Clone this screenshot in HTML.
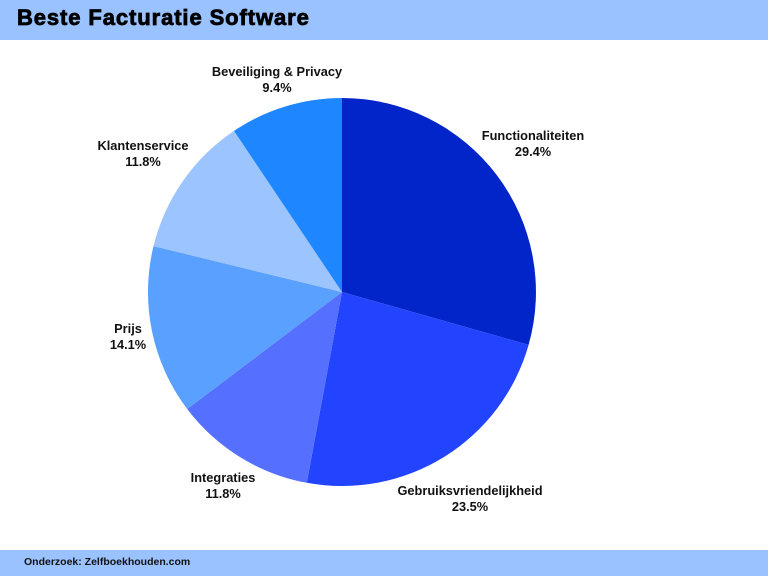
<!DOCTYPE html>
<html><head><meta charset="utf-8"><style>
html,body{margin:0;padding:0;background:#fff;}
body{width:768px;height:576px;position:relative;overflow:hidden;font-family:"Liberation Sans",sans-serif;}
.hdr{position:absolute;left:0;top:0;width:768px;height:40px;background:#99c2ff;}
.hdr span{position:absolute;left:17px;top:5px;font-size:22px;font-weight:bold;color:#000;letter-spacing:0.9px;-webkit-text-stroke:0.8px #000;}
.ftr{position:absolute;left:0;top:550px;width:768px;height:26px;background:#99c2ff;}
.ftr span{position:absolute;left:24px;top:6px;font-size:10.5px;font-weight:bold;color:#111;}
</style></head><body>
<div class="hdr"><span>Beste Facturatie Software</span></div>
<svg width="768" height="576" style="position:absolute;left:0;top:0">
<g stroke="none">
<path d="M342,292 L342,98 A194,194 0 0,1 528.6,344.9 Z" fill="#0225c9"/>
<path d="M342,292 L528.6,344.9 A194,194 0 0,1 306.8,482.8 Z" fill="#2244ff"/>
<path d="M342,292 L306.8,482.8 A194,194 0 0,1 187.2,409.0 Z" fill="#5570ff"/>
<path d="M342,292 L187.2,409.0 A194,194 0 0,1 153.5,246.1 Z" fill="#5aa0ff"/>
<path d="M342,292 L153.5,246.1 A194,194 0 0,1 234.0,130.9 Z" fill="#9cc4ff"/>
<path d="M342,292 L234.0,130.9 A194,194 0 0,1 342,98 Z" fill="#1e87ff"/>
</g>
<g font-family="Liberation Sans, sans-serif" font-size="12.8" font-weight="bold" fill="#111" text-anchor="middle">
<text x="277" y="76">Beveiliging &amp; Privacy</text><text x="277" y="92">9.4%</text>
<text x="533" y="140">Functionaliteiten</text><text x="533" y="156">29.4%</text>
<text x="143" y="150">Klantenservice</text><text x="143" y="166">11.8%</text>
<text x="128" y="333">Prijs</text><text x="128" y="349">14.1%</text>
<text x="223" y="482">Integraties</text><text x="223" y="498">11.8%</text>
<text x="470" y="495">Gebruiksvriendelijkheid</text><text x="470" y="511">23.5%</text>
</g>
</svg>
<div class="ftr"><span>Onderzoek: Zelfboekhouden.com</span></div>
</body></html>
